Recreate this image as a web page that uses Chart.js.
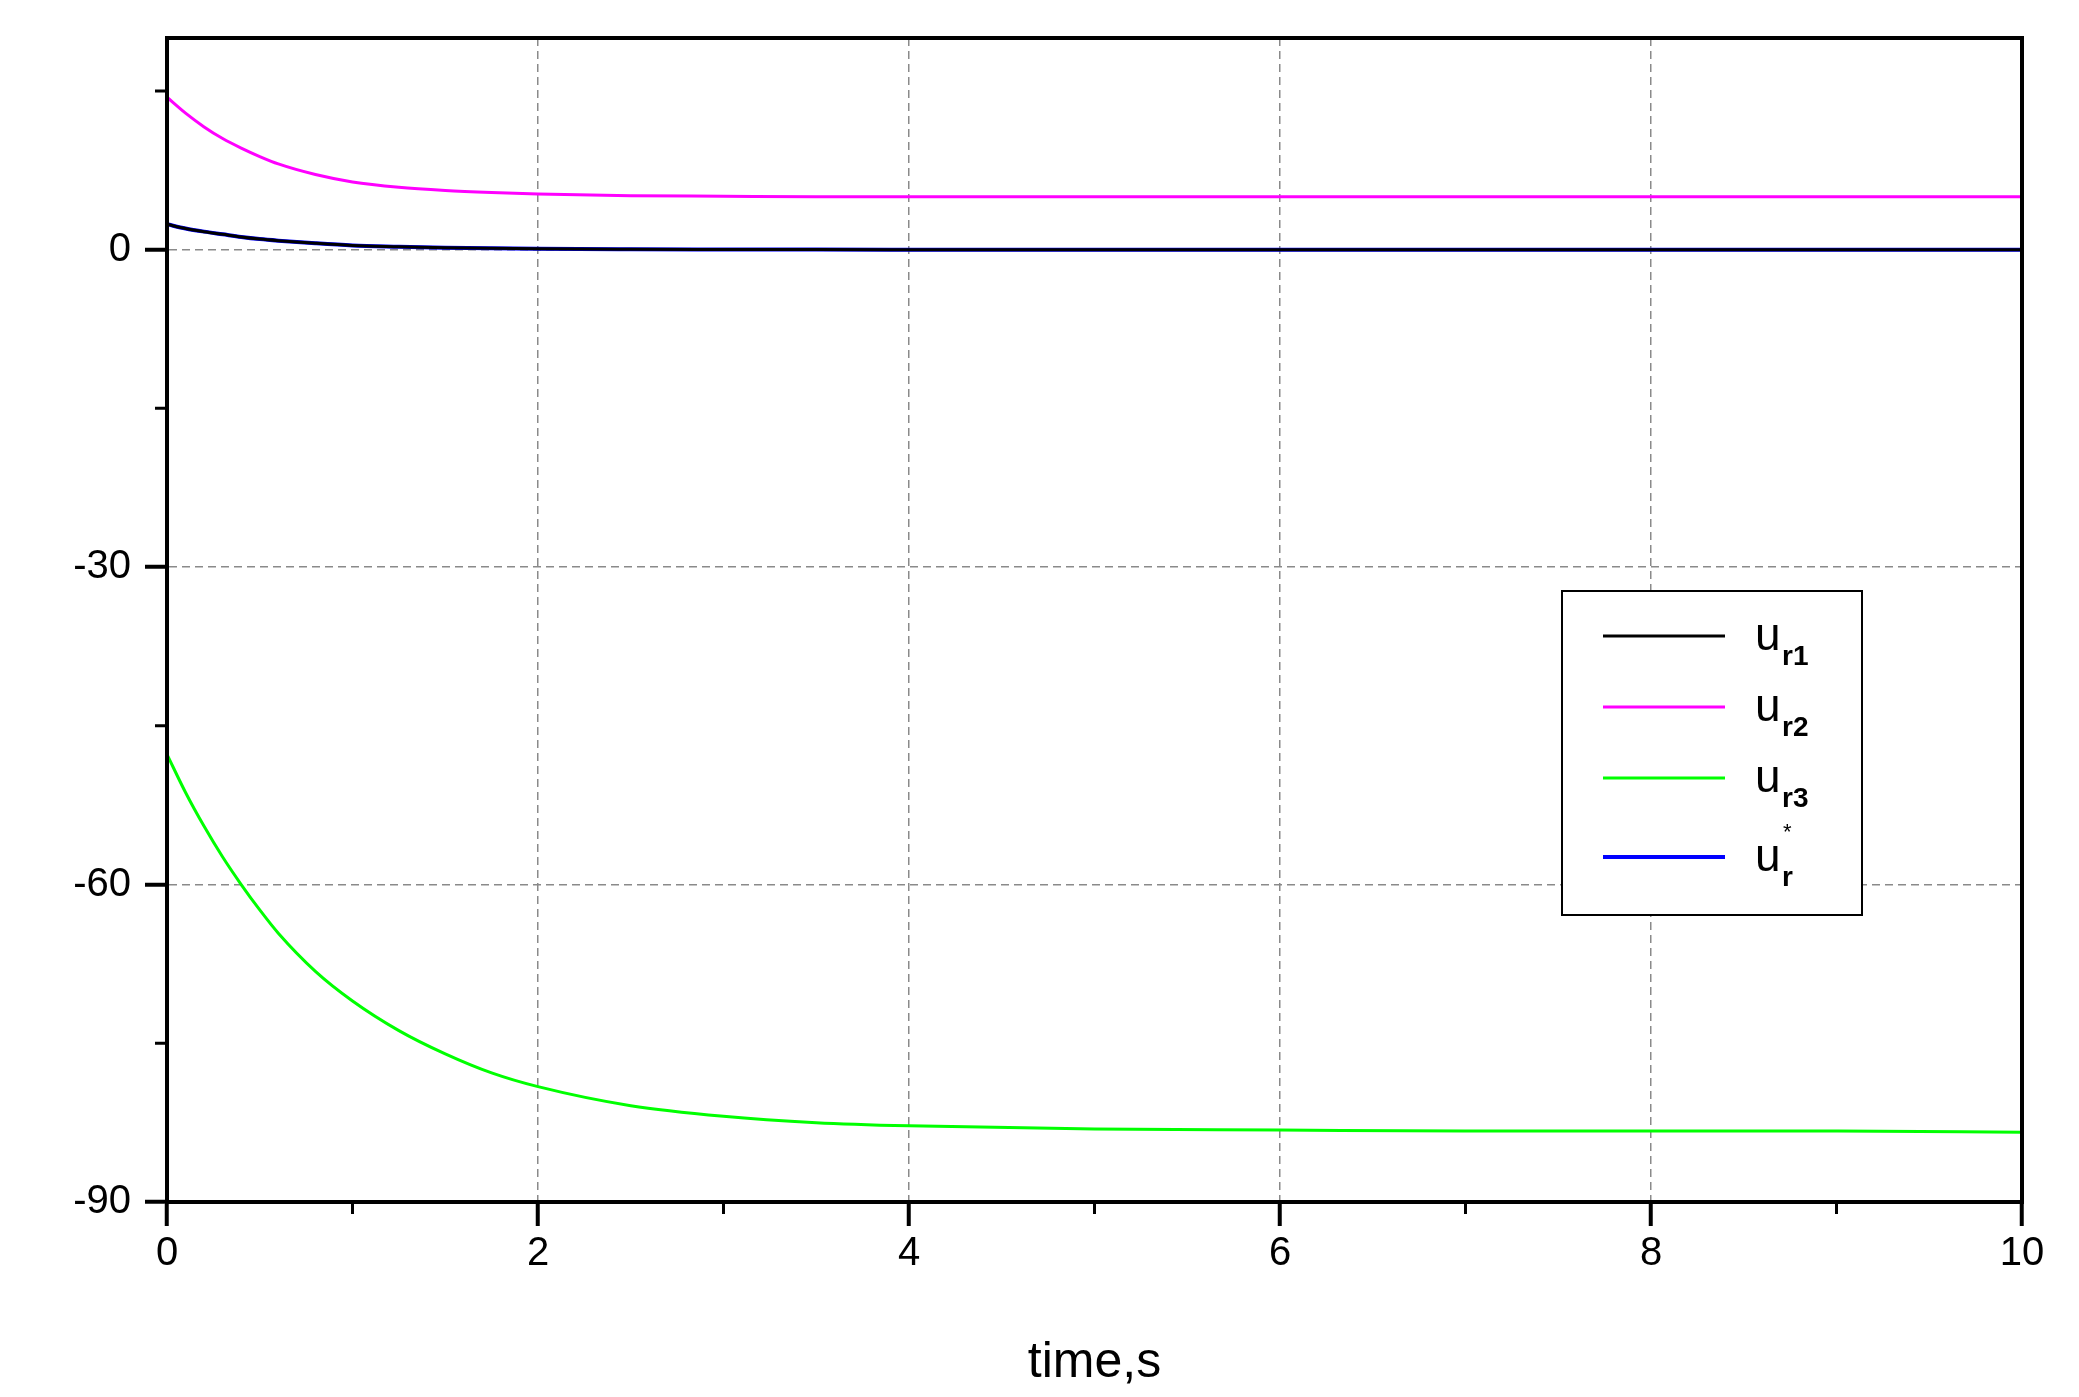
<!DOCTYPE html>
<html>
<head>
<meta charset="utf-8">
<script src="https://cdn.jsdelivr.net/npm/chart.js"></script>
<style>
  html, body { margin: 0; padding: 0; background: #fff; }
  #wrap { width: 2079px; height: 1397px; }
</style>
</head>
<body>
<div id="wrap"><canvas id="chart" width="2079" height="1397"></canvas></div>
<script>
// time samples, s
const times = [0, 0.1, 0.2, 0.3, 0.4, 0.5, 0.6, 0.8, 1, 1.25, 1.5, 1.75, 2, 2.5, 3, 3.5, 4, 5, 6, 7, 8, 9, 10];

// values
const ur1 = [2.4, 2.0, 1.7, 1.45, 1.2, 1.0, 0.85, 0.6, 0.4, 0.28, 0.18, 0.12, 0.08, 0.04, 0.02, 0.01, 0, 0, 0, 0, 0, 0, 0];
const ur2 = [14.4, 12.9, 11.6, 10.5, 9.6, 8.8, 8.1, 7.1, 6.4, 5.9, 5.6, 5.4, 5.25, 5.1, 5.05, 5.0, 5.0, 5.0, 5.0, 5.0, 5.0, 5.0, 5.0];
const ur3 = [-47.7, -51.3, -54.5, -57.4, -60.0, -62.4, -64.6, -68.2, -71.0, -73.8, -76.0, -77.8, -79.1, -80.9, -81.9, -82.5, -82.8, -83.1, -83.2, -83.3, -83.3, -83.3, -83.4];
const urStar = [2.4, 2.0, 1.7, 1.45, 1.2, 1.0, 0.85, 0.6, 0.4, 0.28, 0.18, 0.12, 0.08, 0.04, 0.02, 0.01, 0, 0, 0, 0, 0, 0, 0];

const xMajor = [0, 2, 4, 6, 8, 10];
const xMinor = [1, 3, 5, 7, 9];
const yMajor = [0, -30, -60, -90];
const yMinor = [15, -15, -45, -75];

function pts(ys) {
    return times.map((t, i) => ({ x: t, y: ys[i] }));
}

// frame, minor ticks and legend with subscripts
const extras = {
    id: 'extras',
    afterDraw(chart) {
        const ctx = chart.ctx;
        const a = chart.chartArea;
        const xs = chart.scales.x, ys = chart.scales.y;
        ctx.save();
        ctx.strokeStyle = '#000';
        ctx.lineWidth = 4;
        ctx.strokeRect(a.left, a.top, a.right - a.left, a.bottom - a.top);

        // minor ticks
        ctx.lineWidth = 3;
        ctx.beginPath();
        xMinor.forEach(v => {
            const px = xs.getPixelForValue(v);
            ctx.moveTo(px, a.bottom);
            ctx.lineTo(px, a.bottom + 12);
        });
        yMinor.forEach(v => {
            const py = ys.getPixelForValue(v);
            ctx.moveTo(a.left, py);
            ctx.lineTo(a.left - 12, py);
        });
        ctx.stroke();

        // legend
        const bx = 1562, by = 591, bw = 300, bh = 324;
        ctx.fillStyle = '#fff';
        ctx.fillRect(bx, by, bw, bh);
        ctx.lineWidth = 2;
        ctx.strokeRect(bx, by, bw, bh);
        const items = [
            { c: '#000000', sub: 'r1', sup: '', y: 636 },
            { c: '#ff00ff', sub: 'r2', sup: '', y: 707 },
            { c: '#00ff00', sub: 'r3', sup: '', y: 778 },
            { c: '#0000ff', sub: 'r', sup: '*', y: 857 }
        ];
        items.forEach(it => {
            ctx.strokeStyle = it.c;
            ctx.lineWidth = it.c === '#0000ff' ? 4 : 3;
            ctx.beginPath();
            ctx.moveTo(1603, it.y);
            ctx.lineTo(1725, it.y);
            ctx.stroke();
            ctx.fillStyle = '#000';
            ctx.textBaseline = 'alphabetic';
            ctx.font = '46px "Liberation Sans", Arial, sans-serif';
            ctx.fillText('u', 1755, it.y + 14);
            ctx.font = 'bold 28px "Liberation Sans", Arial, sans-serif';
            ctx.fillText(it.sub, 1782, it.y + 29);
            if (it.sup) {
                ctx.font = '22px "Liberation Sans", Arial, sans-serif';
                ctx.fillText(it.sup, 1783, it.y - 18);
            }
        });
        ctx.restore();
    }
};

const ctx = document.getElementById('chart').getContext('2d');
new Chart(ctx, {
    type: 'line',
    data: {
        datasets: [
            { label: 'ur1', data: pts(ur1), borderColor: '#000000', borderWidth: 3 },
            { label: 'ur2', data: pts(ur2), borderColor: '#ff00ff', borderWidth: 3 },
            { label: 'ur3', data: pts(ur3), borderColor: '#00ff00', borderWidth: 3 },
            { label: 'ur*', data: pts(urStar), borderColor: '#0000ff', borderWidth: 4 }
        ]
    },
    options: {
        responsive: false,
        animation: false,
        devicePixelRatio: 1,
        elements: { point: { radius: 0 }, line: { cubicInterpolationMode: 'monotone' } },
        layout: { padding: { top: 37, right: 57, left: 0, bottom: 0 } },
        plugins: { legend: { display: false }, tooltip: { enabled: false } },
        scales: {
            x: {
                type: 'linear',
                min: 0, max: 10,
                afterBuildTicks: s => { s.ticks = xMajor.map(v => ({ value: v })); },
                afterFit: s => { s.height = 195; },
                ticks: { color: '#000', font: { size: 40, family: '"Liberation Sans", Arial, sans-serif' }, padding: 4, maxRotation: 0 },
                grid: {
                    color: c => (c.tick && (c.tick.value === 0 || c.tick.value === 10)) ? 'rgba(0,0,0,0)' : '#8a8a8a',
                    lineWidth: 1.5,
                    tickColor: '#000', tickLength: 24, tickWidth: 4
                },
                border: { display: true, color: '#000', width: 4, dash: [8, 5] },
                title: { display: true, text: 'time,s', color: '#000', font: { size: 50, family: '"Liberation Sans", Arial, sans-serif' }, padding: { top: 10 } }
            },
            y: {
                min: -90, max: 20,
                afterBuildTicks: s => { s.ticks = yMajor.map(v => ({ value: v })); },
                afterFit: s => { s.width = 167; },
                ticks: { color: '#000', font: { size: 40, family: '"Liberation Sans", Arial, sans-serif' }, padding: 14 },
                grid: {
                    color: c => (c.tick && c.tick.value === -90) ? 'rgba(0,0,0,0)' : '#8a8a8a',
                    lineWidth: 1.5,
                    tickColor: '#000', tickLength: 22, tickWidth: 4
                },
                border: { display: true, color: '#000', width: 4, dash: [8, 5] }
            }
        }
    },
    plugins: [extras]
});
</script>
</body>
</html>
